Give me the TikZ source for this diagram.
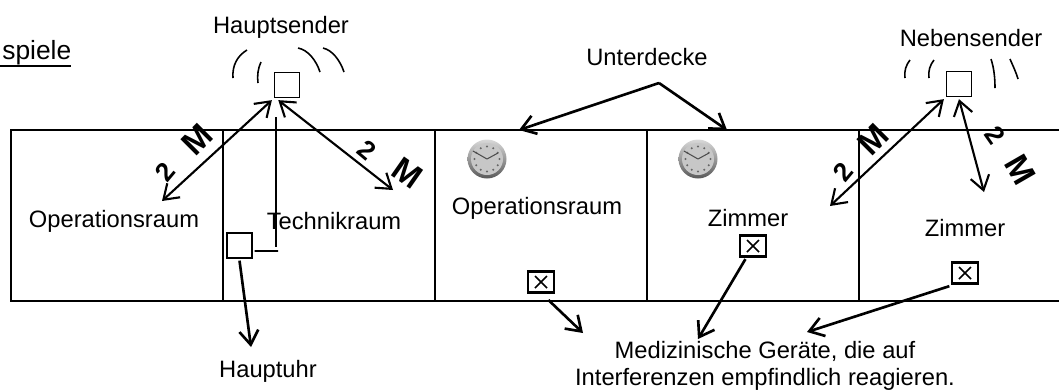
\documentclass[tikz,border=0pt]{standalone}
\usepackage{fontspec}
\setmainfont{Liberation Sans}
\usetikzlibrary{arrows.meta}
\tikzset{
	lab/.style={inner sep=0pt,font=\fontsize{13.5}{15.4}\selectfont},
	hand/.style={inner sep=0pt,font=\fontsize{19}{19}\selectfont\bfseries},
	handtwo/.style={inner sep=0pt,font=\fontsize{15}{15}\selectfont\bfseries},
	wall/.style={line width=1.3pt},
	wave/.style={line width=0.9pt},
	sendbox/.style={draw,line width=1.1pt,minimum width=0.5cm,minimum height=0.5cm,outer sep=1.5pt,inner sep=0pt,fill=white},
	medbox/.style={draw,line width=1.3pt,minimum width=0.52cm,minimum height=0.42cm,inner sep=0pt,outer sep=1.5pt,path picture={
		\draw[line width=0.9pt] (path picture bounding box.center) +(-6,-6) -- +(6,6) +(-6,6) -- +(6,-6);}},
	reach/.style={line width=1.2pt,{Straight Barb[length=2.8mm,width=3.8mm]}-{Straight Barb[length=2.8mm,width=3.8mm]}},
	point/.style={line width=1.5pt,-{Straight Barb[length=2.8mm,width=3.8mm]}},
	clock/.pic={
		\shade[top color=gray!30,bottom color=black!65] (0,0) circle (19.5);
		\fill[black!22] (0,0) circle (16);
		\foreach \a in {0,30,...,330}
			\fill[black!60] (\a:12.5) circle (1.1);
		\draw[black!70,line width=0.6pt] (0,0) -- (-14,-8);
		\draw[black!70,line width=0.6pt] (0,0) -- (11,-6);
	}
}
\begin{document}
\begin{tikzpicture}[x=0.02cm,y=-0.02cm]
	\useasboundingbox (0,0) rectangle (1059,390);
	% rooms
	\draw[wall] (1059,130) -- (11,130) -- (11,301) -- (1059,301);
	\foreach \x in {223,435,647,859}
		\draw[wall] (\x,130) -- (\x,301);
	% labels
	\node[lab,anchor=west,font=\fontsize{15}{17}\selectfont] (sp) at (2,53) {spiele};
	\draw[line width=0.8pt] (0,66) -- (71,66);
	\node[lab] (hstext) at (281,27) {Hauptsender};
	\node[lab] (nbtext) at (971,38) {Nebensender};
	\node[lab] (udtext) at (647,57) {Unterdecke};
	\node[lab] (op1) at (114,221) {Operationsraum};
	\node[lab] (tech) at (334,221) {Technikraum};
	\node[lab] (op2) at (537,208) {Operationsraum};
	\node[lab] (zi1) at (748,218) {Zimmer};
	\node[lab] (zi2) at (965,228) {Zimmer};
	\node[lab] (hutext) at (268,371) {Hauptuhr};
	\node[lab,align=center] (medtext) at (765,366) {Medizinische Geräte, die auf\\Interferenzen empfindlich reagieren.};
	% clocks
	\pic at (487,159) {clock};
	\pic at (698,159) {clock};
	% boxes
	\node[sendbox] (hs) at (287,85) {};
	\node[sendbox] (nb) at (959,84) {};
	\node[sendbox] (hu) at (239.5,245.5) {};
	\node[medbox] (m1) at (541,282) {};
	\node[medbox] (m2) at (753,246) {};
	\node[medbox] (m3) at (965,273) {};
	% radio waves
	\draw[wave] (247,50) .. controls (237,56) and (232,66) .. (233,78);
	\draw[wave] (261,62) .. controls (258,68) and (257,76) .. (258,83);
	\draw[wave] (298,48) .. controls (308,50) and (316,60) .. (320,72);
	\draw[wave] (323,48) .. controls (332,50) and (340,60) .. (344,72);
	\draw[wave] (910,60) .. controls (906,65) and (904,71) .. (905,78);
	\draw[wave] (934,60) .. controls (930,65) and (928,71) .. (929,78);
	\draw[wave] (991,59) .. controls (994,68) and (995,78) .. (995,88);
	\draw[wave] (1010,59) .. controls (1013,66) and (1016,72) .. (1018,79);
	% free ends
	\coordinate (opend) at (162,201);
	\coordinate (techend) at (393,190);
	\coordinate (zi1end) at (830,206);
	\coordinate (zi2end) at (984,192);
	\coordinate (ud) at (659,83);
	\coordinate (udleft) at (519,130);
	\coordinate (udright) at (727,130);
	\coordinate (lineup) at (276,117);
	\coordinate (linedown) at (276,247);
	\coordinate (lineend) at (278,251);
	\coordinate (huend) at (251,347);
	\coordinate (m1end) at (583,333);
	\coordinate (m2end) at (698,339);
	\coordinate (m3end) at (807,332);
	% connectors
	\draw[reach] (hs.south west) -- (opend);
	\draw[reach] (hs.-120) -- (techend);
	\draw[reach] (nb.south west) -- (zi1end);
	\draw[reach] (nb.south) -- (zi2end);
	\draw[point] (ud) -- (udleft);
	\draw[point] (ud) -- (udright);
	\draw[line width=0.9pt] (lineup) -- (linedown);
	\draw[line width=0.9pt] (hu.-20) -- (lineend);
	\draw[point] (hu.south) -- (huend);
	\draw[point,shorten <=4pt] (m1.-80) -- (m1end);
	\draw[point] (m2.-120) -- (m2end);
	\draw[point] (m3.south west) -- (m3end);
	% hand written distances
	\node[handtwo,rotate=50] (d1a) at (165,172) {2};
	\node[hand,rotate=45] (d1b) at (197,140) {M};
	\node[handtwo,rotate=-40] (d2a) at (367,150) {2};
	\node[hand,rotate=-35] (d2b) at (407,173) {M};
	\node[handtwo,rotate=50] (d3a) at (843,172) {2};
	\node[hand,rotate=45] (d3b) at (873,140) {M};
	\node[handtwo,rotate=-55] (d4a) at (995,135) {2};
	\node[hand,rotate=-60] (d4b) at (1020,170) {M};
\end{tikzpicture}
\end{document}
